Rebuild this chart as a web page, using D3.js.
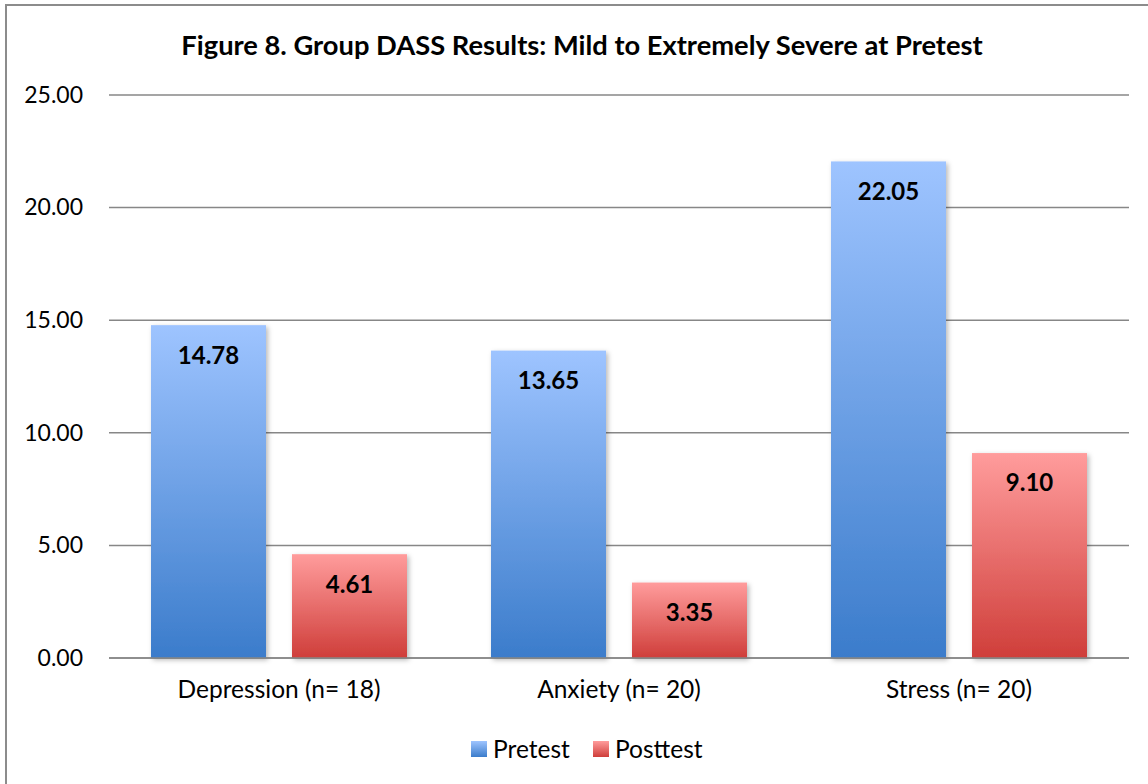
<!DOCTYPE html>
<html>
<head>
<meta charset="utf-8">
<script src="https://cdn.jsdelivr.net/npm/d3@7"></script>
<style>
  html, body { margin: 0; padding: 0; background: #fff; }
  svg { display: block; font-family: Lato, "Liberation Sans", sans-serif; }
</style>
</head>
<body>
<svg id="chart" width="1148" height="784"></svg>
<script>
// Group DASS mean scores, pretest vs posttest
const categories = ["Depression (n= 18)", "Anxiety (n= 20)", "Stress (n= 20)"];
const seriesNames = ["Pretest", "Posttest"];
const pretest = [14.78, 13.65, 22.05];
const posttest = [4.61, 3.35, 9.10];
const yTicks = [0, 5, 10, 15, 20, 25];
const title = "Figure 8. Group DASS Results: Mild to Extremely Severe at Pretest";

const svg = d3.select("#chart");
const W = 1148, H = 784;
const margin = { left: 109, right: 19, top: 95, bottom: 126 };
const plotW = W - margin.left - margin.right;
const plotH = H - margin.top - margin.bottom;

// outer chart frame (runs off the right and bottom edges)
svg.append("rect")
  .attr("x", 6).attr("y", 5)
  .attr("width", W + 10).attr("height", H + 10)
  .attr("fill", "#fff").attr("stroke", "#8c8c8c").attr("stroke-width", 2);

const defs = svg.append("defs");
const grads = [
  { id: "gradPre", top: "#9ec4ff", bottom: "#3b7ccb" },
  { id: "gradPost", top: "#ff9c9c", bottom: "#cf3e3a" }
];
grads.forEach(g => {
  const lg = defs.append("linearGradient").attr("id", g.id)
    .attr("x1", 0).attr("y1", 0).attr("x2", 0).attr("y2", 1);
  lg.append("stop").attr("offset", "0%").attr("stop-color", g.top);
  lg.append("stop").attr("offset", "100%").attr("stop-color", g.bottom);
});
const shadow = defs.append("filter").attr("id", "barShadow")
  .attr("x", "-10%").attr("y", "-10%").attr("width", "130%").attr("height", "130%");
shadow.append("feDropShadow")
  .attr("dx", 2).attr("dy", 2).attr("stdDeviation", 2.5)
  .attr("flood-color", "#000").attr("flood-opacity", 0.28);

const g = svg.append("g").attr("transform", `translate(${margin.left},${margin.top})`);

const x0 = d3.scaleBand().domain(categories).range([0, plotW]).paddingInner(0).paddingOuter(0);
const x1 = d3.scaleBand().domain(seriesNames).range([42, x0.bandwidth() - 42]).paddingInner(26 / 141);
const y = d3.scaleLinear().domain([0, 25]).range([plotH, 0]);

// horizontal gridlines
g.append("g")
  .selectAll("line")
  .data(yTicks)
  .join("line")
  .attr("x1", 0).attr("x2", plotW)
  .attr("y1", d => y(d)).attr("y2", d => y(d))
  .attr("stroke", "#878787").attr("stroke-width", 1.5);

// y axis labels
const yAxis = d3.axisLeft(y).tickValues(yTicks).tickFormat(d3.format(".2f")).tickSize(0).tickPadding(26);
g.append("g").call(yAxis)
  .call(s => s.select(".domain").remove())
  .selectAll("text")
  .attr("font-size", 23).attr("fill", "#000").attr("font-family", "Lato, sans-serif");

const rows = categories.map((c, i) => ({
  cat: c,
  values: [
    { name: "Pretest", v: pretest[i], fill: "url(#gradPre)" },
    { name: "Posttest", v: posttest[i], fill: "url(#gradPost)" }
  ]
}));

const groups = g.selectAll(".cat").data(rows).join("g")
  .attr("class", "cat")
  .attr("transform", d => `translate(${x0(d.cat)},0)`);

groups.selectAll("rect").data(d => d.values).join("rect")
  .attr("x", d => x1(d.name))
  .attr("width", x1.bandwidth())
  .attr("y", d => y(d.v))
  .attr("height", d => plotH - y(d.v))
  .attr("fill", d => d.fill)
  .attr("filter", "url(#barShadow)");

groups.selectAll("text.val").data(d => d.values).join("text")
  .attr("class", "val")
  .attr("x", d => x1(d.name) + x1.bandwidth() / 2)
  .attr("y", d => y(d.v) + 30)
  .attr("dy", "0.35em")
  .attr("text-anchor", "middle")
  .attr("font-size", 24).attr("font-weight", "bold").attr("fill", "#000")
  .text(d => d.v.toFixed(2));

// baseline over bar bottoms
g.append("line")
  .attr("x1", 0).attr("x2", plotW)
  .attr("y1", y(0)).attr("y2", y(0))
  .attr("stroke", "#878787").attr("stroke-width", 1.5);

// category axis labels
const xAxis = d3.axisBottom(x0).tickSize(0).tickPadding(23);
g.append("g").attr("transform", `translate(0,${plotH})`).call(xAxis)
  .call(s => s.select(".domain").remove())
  .selectAll("text")
  .attr("font-size", 24.5).attr("fill", "#000").attr("font-family", "Lato, sans-serif");

// title
svg.append("text")
  .attr("x", 582).attr("y", 45).attr("dy", "0.35em")
  .attr("text-anchor", "middle")
  .attr("font-size", 27.3).attr("font-weight", "bold").attr("fill", "#000")
  .text(title);

// legend
const legend = svg.append("g");
const legendItems = [
  { name: seriesNames[0], fill: "url(#gradPre)", x: 471 },
  { name: seriesNames[1], fill: "url(#gradPost)", x: 593 }
];
legendItems.forEach(it => {
  legend.append("rect").attr("x", it.x).attr("y", 741).attr("width", 16).attr("height", 16).attr("fill", it.fill);
  legend.append("text").attr("x", it.x + 22).attr("y", 749).attr("dy", "0.35em")
    .attr("font-size", 24.5).attr("fill", "#000").text(it.name);
});
</script>
</body>
</html>
